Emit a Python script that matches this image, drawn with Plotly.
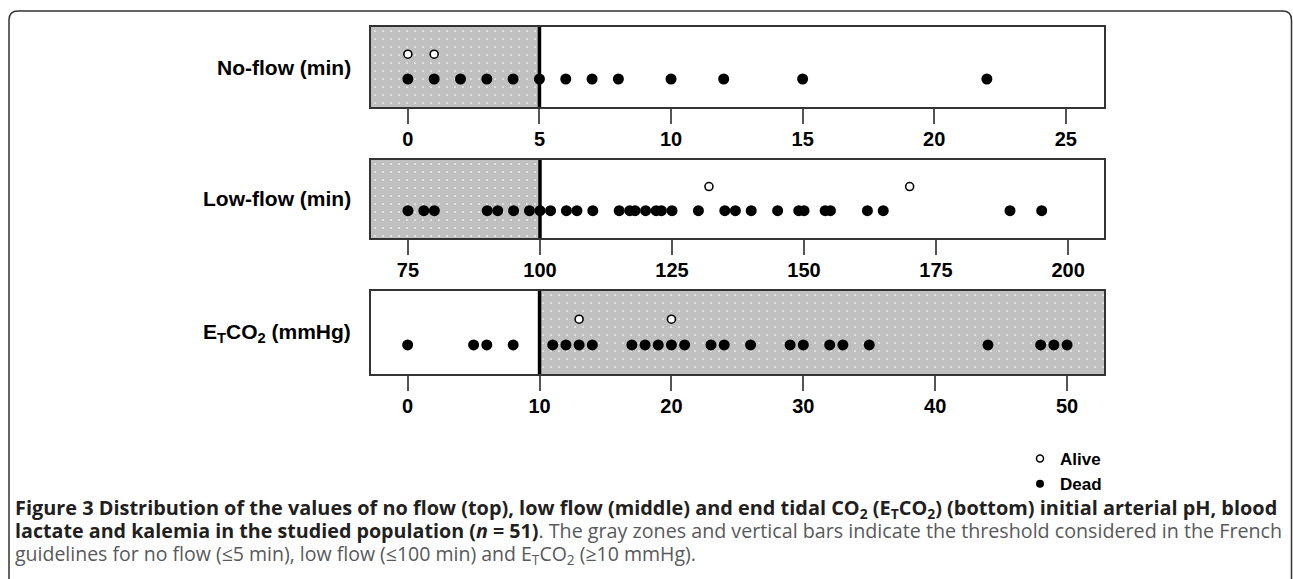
import plotly.graph_objects as go

W, H = 1293, 579

# ---------------- data ----------------
noflow_dead = [0, 1, 2, 3, 4, 5, 6, 7, 8, 10, 12, 15, 22]
noflow_alive = [0, 1]
lowflow_dead = [75, 78, 80, 90, 92, 95, 98, 100, 102, 105, 107, 110, 115, 117, 118,
                120, 122, 123, 125, 130, 135, 137, 140, 145, 149, 150, 154, 155,
                162, 165, 189, 195]
lowflow_alive = [132, 170]
etco2_dead = [0, 5, 6, 8, 11, 12, 13, 14, 17, 18, 19, 20, 21, 23, 24, 26, 29, 30,
              32, 33, 35, 44, 48, 49, 50]
etco2_alive = [13, 20]

panel_labels = ["No-flow (min)", "Low-flow (min)", "E<sub>T</sub>CO<sub>2</sub> (mmHg)"]
thresholds = [5, 100, 10]
shade_side = ["below", "below", "above"]
x_ranges = [[-1.4, 26.45], [68.0, 206.8], [-2.78, 52.8]]
tick_values = [[0, 5, 10, 15, 20, 25], [75, 100, 125, 150, 175, 200], [0, 10, 20, 30, 40, 50]]
dead_values = [noflow_dead, lowflow_dead, etco2_dead]
alive_values = [noflow_alive, lowflow_alive, etco2_alive]
legend_names = ["Alive", "Dead"]

DEAD_LEVEL = 0.35
ALIVE_LEVEL = 0.66

# ---------------- layout geometry (pixels) ----------------
X_LEFT, X_RIGHT = 371, 1104
PANEL_PX = [(27, 107), (160, 238), (291, 374)]


def px_x(p):
    return p / W


def px_y(p):
    return 1 - p / H


fig = go.Figure()
layout_axes = {}
shapes = []
annotations = []

for i in range(3):
    n = i + 1
    xa = "x" if n == 1 else f"x{n}"
    ya = "y" if n == 1 else f"y{n}"
    lo, hi = x_ranges[i]
    thr = thresholds[i]
    if shade_side[i] == "below":
        s_lo, s_hi = lo, thr
    else:
        s_lo, s_hi = thr, hi
    # shaded zone with dotted pattern
    fig.add_trace(go.Bar(
        x=[(s_lo + s_hi) / 2], y=[1], base=[0], width=[s_hi - s_lo],
        xaxis=xa, yaxis=ya, showlegend=False, hoverinfo="skip",
        marker=dict(color="#c0c0c0", line=dict(width=0),
                    pattern=dict(shape=".", bgcolor="#c0c0c0", fgcolor="white",
                                 size=8, solidity=0.035, fillmode="replace")),
    ))
    fig.add_trace(go.Scatter(
        x=dead_values[i], y=[DEAD_LEVEL] * len(dead_values[i]), mode="markers",
        xaxis=xa, yaxis=ya, showlegend=False, hoverinfo="skip",
        marker=dict(size=11, color="black", line=dict(width=0)),
    ))
    fig.add_trace(go.Scatter(
        x=alive_values[i], y=[ALIVE_LEVEL] * len(alive_values[i]), mode="markers",
        xaxis=xa, yaxis=ya, showlegend=False, hoverinfo="skip",
        marker=dict(size=8, color="white", line=dict(width=1.6, color="black")),
    ))

    top, bot = PANEL_PX[i]
    key_x = "xaxis" if n == 1 else f"xaxis{n}"
    key_y = "yaxis" if n == 1 else f"yaxis{n}"
    layout_axes[key_x] = dict(
        domain=[px_x(X_LEFT), px_x(X_RIGHT)], anchor=ya, range=[lo, hi],
        tickmode="array", tickvals=tick_values[i],
        ticks="outside", ticklen=15, tickwidth=1.5, tickcolor="#555555",
        showline=True, mirror=True, linecolor="#333333", linewidth=1.5,
        showgrid=False, zeroline=False, fixedrange=True,
        tickfont=dict(family="Liberation Sans, Arial", size=20, color="black", weight="bold"),
        ticklabelstandoff=-2,
    )
    layout_axes[key_y] = dict(
        domain=[px_y(bot), px_y(top)], anchor=xa, range=[0, 1],
        showticklabels=False, ticks="", showgrid=False, zeroline=False,
        showline=True, mirror=True, linecolor="#333333", linewidth=1.5, fixedrange=True,
    )
    shapes.append(dict(type="line", xref=xa, yref=f"{ya} domain", x0=thr, x1=thr,
                       y0=0, y1=1, line=dict(color="black", width=3.5), layer="above"))
    annotations.append(dict(
        text=panel_labels[i], xref="paper", yref="paper",
        x=px_x(353), y=px_y((top + bot) / 2), xanchor="right", yanchor="middle",
        showarrow=False,
        font=dict(family="Liberation Sans, Arial", size=21, color="black", weight="bold"),
    ))

# legend entries
fig.add_trace(go.Scatter(x=[None], y=[None], mode="markers", name=legend_names[0],
                         marker=dict(size=7, color="white", line=dict(width=1.5, color="black"))))
fig.add_trace(go.Scatter(x=[None], y=[None], mode="markers", name=legend_names[1],
                         marker=dict(size=8, color="black")))

# caption (one multi-line text block)
dark = "#231f20"
grey = "#58595b"
caption_lines = [
    "<span style='font-size:19.9px'><b>Figure 3 Distribution of the values of no flow (top), low flow (middle) and end tidal "
    "CO<sub>2</sub> (E<sub>T</sub>CO<sub>2</sub>) (bottom) initial arterial pH, blood</b></span>",
    "<span style='font-size:19.7px'><b>lactate and kalemia in the studied population (<i>n</i> = 51)</b>"
    f"<span style='color:{grey}'>. The gray zones and vertical bars indicate the threshold considered in the French</span></span>",
    f"<span style='font-size:19.5px;color:{grey}'>guidelines for no flow (≤5 min), low flow (≤100 min) and "
    "E<sub>T</sub>CO<sub>2</sub> (≥10 mmHg).</span>",
]
annotations.append(dict(
    text="<br>".join(caption_lines), xref="paper", yref="paper",
    x=px_x(13), y=px_y(492), xanchor="left", yanchor="top", align="left",
    showarrow=False, font=dict(family="Open Sans", size=17.8, color=dark),
))

# frame with rounded top corners
r = 9
fx0, fx1, fy0, fy1 = 9, 1291.5, 11, 585
path = (f"M {px_x(fx0)},{px_y(fy1)} L {px_x(fx0)},{px_y(fy0 + r)} "
        f"Q {px_x(fx0)},{px_y(fy0)} {px_x(fx0 + r)},{px_y(fy0)} "
        f"L {px_x(fx1 - r)},{px_y(fy0)} "
        f"Q {px_x(fx1)},{px_y(fy0)} {px_x(fx1)},{px_y(fy0 + r)} "
        f"L {px_x(fx1)},{px_y(fy1)}")
shapes.append(dict(type="path", xref="paper", yref="paper", path=path,
                   line=dict(color="#333333", width=1.5)))

fig.update_layout(
    width=W, height=H, margin=dict(l=0, r=0, t=0, b=0),
    paper_bgcolor="white", plot_bgcolor="white",
    barmode="overlay", hovermode=False,
    shapes=shapes, annotations=annotations,
    showlegend=True,
    legend=dict(x=px_x(1020), y=px_y(441), xanchor="left", yanchor="top",
                bgcolor="rgba(0,0,0,0)", tracegroupgap=0,
                font=dict(family="Liberation Sans, Arial", size=17, color="black", weight="bold")),
    **layout_axes,
)

fig.write_html("out.html", config={"displayModeBar": False},
               post_script="document.body.style.margin='0';document.body.style.overflow='hidden';")
